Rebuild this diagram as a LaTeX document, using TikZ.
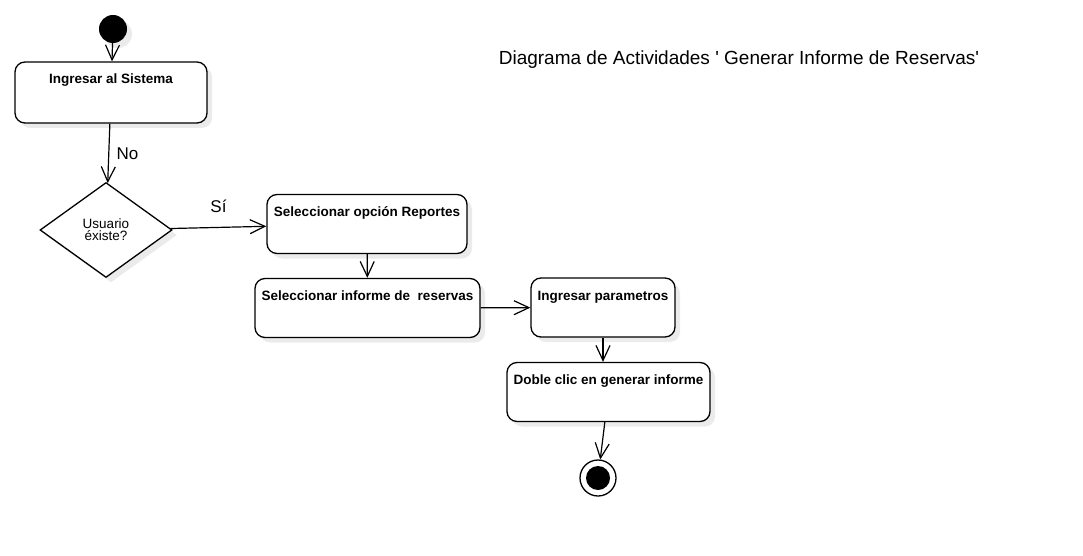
\documentclass[tikz,border=0pt]{standalone}
\usepackage{fontspec}
\setmainfont{Liberation Sans}
\usetikzlibrary{arrows.meta,shapes.geometric,shadows}

\begin{document}
\begin{tikzpicture}[x=1pt,y=-1pt]
    \tikzset{
        sombra/.style={
            drop shadow={shadow xshift=5pt, shadow yshift=-5pt, fill=black!8, opacity=1},
        },
        actividad/.style={
            draw, line width=1.3pt, rounded corners=10pt, fill=white, sombra,
            inner xsep=4pt, inner ysep=5pt, text height=17pt, text depth=#1,
            font=\fontsize{13.5}{15}\selectfont\bfseries,
        },
        actividad/.default=32pt,
        decision/.style={
            diamond, draw, line width=1.3pt, fill=white, sombra,
            minimum width=132pt, minimum height=95pt, inner sep=0pt,
            align=center, font=\fontsize{13.5}{12}\selectfont,
        },
        inicio/.style={circle, fill=black, minimum size=28pt, inner sep=0pt, sombra},
        fin/.style={
            circle, draw, line width=1.3pt, fill=white, minimum size=36pt, inner sep=0pt,
            path picture={\fill[black] (path picture bounding box.center) circle (12pt);},
        },
        flecha/.style={-{Straight Barb[length=15pt,width=14pt]}, line width=1.2pt},
        etiqueta/.style={font=\fontsize{17}{19}\selectfont},
    }
    \useasboundingbox (0,0) rectangle (1083,556);

    % Titulo
    \node[font=\fontsize{19}{21}\selectfont, anchor=base] (titulo) at (739,65)
        {Diagrama de Actividades \textquotesingle{} Generar Informe de Reservas\textquotesingle};

    % Nodos
    \node[inicio] (inicio) at (113,29) {};
    \node[actividad=34pt, minimum width=192pt] (ingresar) at (111,92.5) {Ingresar al Sistema};
    \node[decision] (existe) at (106,230) {Usuario\\éxiste?};
    \node[actividad, minimum width=200pt] (opcion) at (367,224) {Seleccionar opción Reportes};
    \node[actividad, minimum width=225pt] (informe) at (367.5,308) {Seleccionar informe de\ \ reservas};
    \node[actividad, minimum width=144pt] (parametros) at (603,307.5) {Ingresar parametros};
    \node[actividad, minimum width=203pt] (generar) at (608.5,392) {Doble clic en generar informe};
    \node[fin] (fin) at (598,478) {};

    % Transiciones
    \draw[flecha] (inicio) -- (ingresar);
    \draw[flecha] (ingresar) -- node[etiqueta, right=4pt] (no) {No} (existe);
    \draw[flecha] (existe) -- node[etiqueta, above=11pt] (si) {Sí} (opcion);
    \draw[flecha] (opcion) -- (informe);
    \draw[flecha] (informe) -- (parametros);
    \draw[flecha] (parametros.south) -- (parametros.south |- generar.north);
    \draw[flecha] (generar) -- (fin);

\end{tikzpicture}
\end{document}
